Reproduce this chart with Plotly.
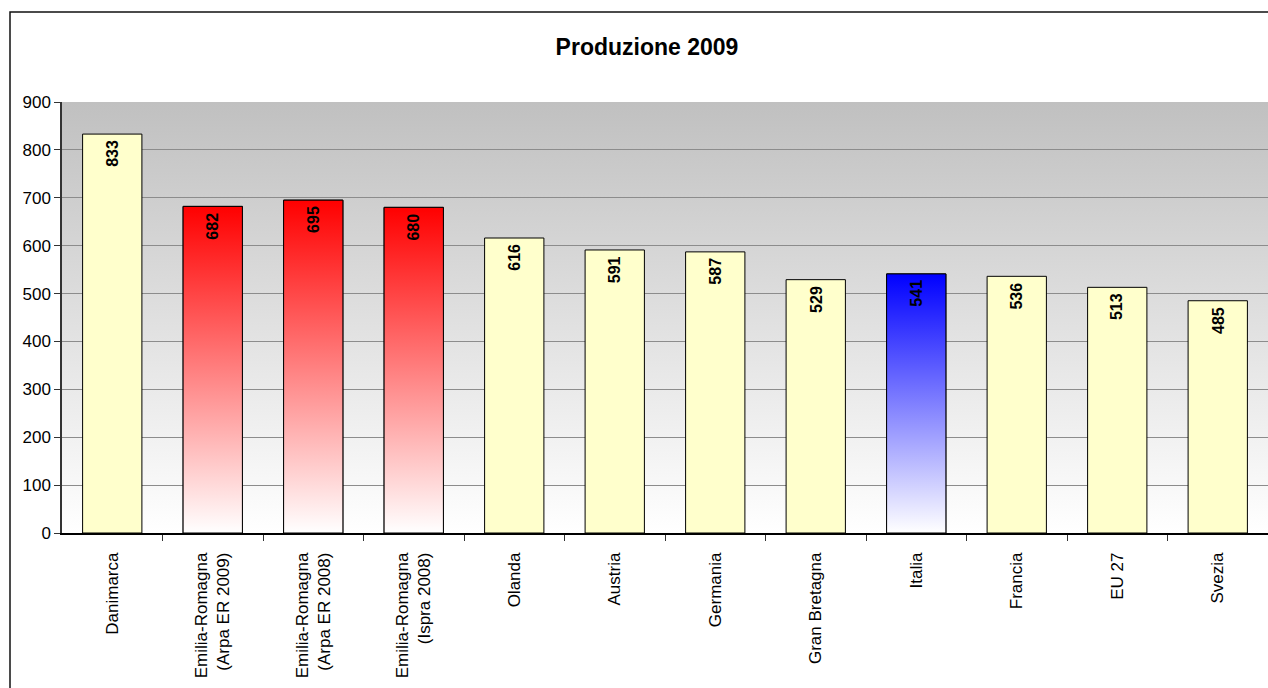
import base64
import plotly.graph_objects as go

# Waste production per inhabitant, 2009 (kg/ab)
categories = [
    "Danimarca",
    "Emilia-Romagna<br>(Arpa ER 2009)",
    "Emilia-Romagna<br>(Arpa ER 2008)",
    "Emilia-Romagna<br>(Ispra 2008)",
    "Olanda",
    "Austria",
    "Germania",
    "Gran Bretagna",
    "Italia",
    "Francia",
    "EU 27",
    "Svezia",
]
values = [833, 682, 695, 680, 616, 591, 587, 529, 541, 536, 513, 485]
# fill style per bar: plain pale yellow, or a vertical gradient towards a colour
bar_fill = ["plain", "red", "red", "red", "plain", "plain", "plain", "plain",
            "blue", "plain", "plain", "plain"]
y_ticks = [0, 100, 200, 300, 400, 500, 600, 700, 800, 900]

FONT = "Liberation Sans, Arial, sans-serif"
BAR_W = 0.59
PLAIN = "#FFFFCC"
GRAD_TOP = {"red": "#FF0000", "blue": "#0000FF"}

idx = list(range(len(categories)))

fig = go.Figure()

# all bars (plain colour + outline)
fig.add_trace(go.Bar(
    x=idx, y=values, width=BAR_W,
    marker=dict(color=[PLAIN if f == "plain" else GRAD_TOP[f] for f in bar_fill],
                line=dict(color="black", width=1)),
    hoverinfo="x+y", showlegend=False,
))

# gradient bodies laid over the highlighted bars
h = BAR_W / 2
for i, (v, f) in enumerate(zip(values, bar_fill)):
    if f == "plain":
        continue
    fig.add_trace(go.Scatter(
        x=[i - h, i + h, i + h, i - h, i - h],
        y=[0, 0, v, v, 0],
        mode="lines", fill="toself",
        fillgradient=dict(type="vertical", start=0, stop=v,
                          colorscale=[[0, "#FFFFFF"], [1, GRAD_TOP[f]]]),
        line=dict(color="black", width=1),
        hoverinfo="skip", showlegend=False,
    ))

# value labels, rotated, just under each bar top
for i, v in enumerate(values):
    fig.add_annotation(
        x=i, y=v, text=f"<b>{v}</b>", showarrow=False, textangle=-90,
        xanchor="center", yanchor="top", yshift=-4,
        font=dict(family=FONT, size=16, color="black"),
    )

# grey-to-white backdrop of the plotting area
svg = ('<svg xmlns="http://www.w3.org/2000/svg" width="10" height="100" '
       'viewBox="0 0 10 100" preserveAspectRatio="none">'
       '<defs><linearGradient id="g" x1="0" y1="0" x2="0" y2="1">'
       '<stop offset="0" stop-color="#C0C0C0"/>'
       '<stop offset="1" stop-color="#FFFFFF"/></linearGradient></defs>'
       '<rect width="10" height="100" fill="url(#g)"/></svg>')
bg_src = "data:image/svg+xml;base64," + base64.b64encode(svg.encode()).decode()
fig.add_layout_image(dict(source=bg_src, xref="paper", yref="paper",
                          x=0, y=1, sizex=1, sizey=1, sizing="stretch",
                          xanchor="left", yanchor="top", layer="below"))

# outer chart frame (left and top edges fall inside the view)
fig.add_shape(type="rect", xref="paper", yref="paper",
              x0=-52 / 1206, x1=1.2, y0=-0.6, y1=521 / 431,
              line=dict(color="#111111", width=1.5), layer="above")

fig.update_layout(
    width=1268, height=688,
    margin=dict(l=62, r=0, t=102, b=155),
    paper_bgcolor="white", plot_bgcolor="rgba(0,0,0,0)",
    bargap=1 - BAR_W,
    font=dict(family=FONT, color="black"),
    title=dict(text="<b>Produzione 2009</b>", xref="container", x=647 / 1268,
               xanchor="center", y=1 - 47 / 688, yanchor="middle",
               font=dict(family=FONT, size=23, color="black")),
    xaxis=dict(
        range=[-0.5, len(categories) - 0.5], tickmode="array",
        tickvals=idx, ticktext=categories, tickangle=-90, ticks="",
        tickfont=dict(family=FONT, size=17, color="black"),
        ticklabelstandoff=11,
        minor=dict(tickmode="array", tickvals=[i + 0.5 for i in idx[:-1]],
                   ticks="outside", ticklen=6, tickcolor="#333333", tickwidth=1,
                   showgrid=False),
        showgrid=False, zeroline=False,
        showline=True, linecolor="black", linewidth=1.5,
        fixedrange=True,
    ),
    yaxis=dict(
        range=[0, 900], tickmode="array", tickvals=y_ticks,
        ticks="outside", ticklen=6, tickcolor="#333333",
        tickfont=dict(family=FONT, size=17, color="black"),
        showgrid=True, gridcolor="#8C8C8C", gridwidth=1,
        zeroline=False, showline=True, linecolor="#333333", linewidth=1.5,
        fixedrange=True,
    ),
)

fig.write_html("out.html")
